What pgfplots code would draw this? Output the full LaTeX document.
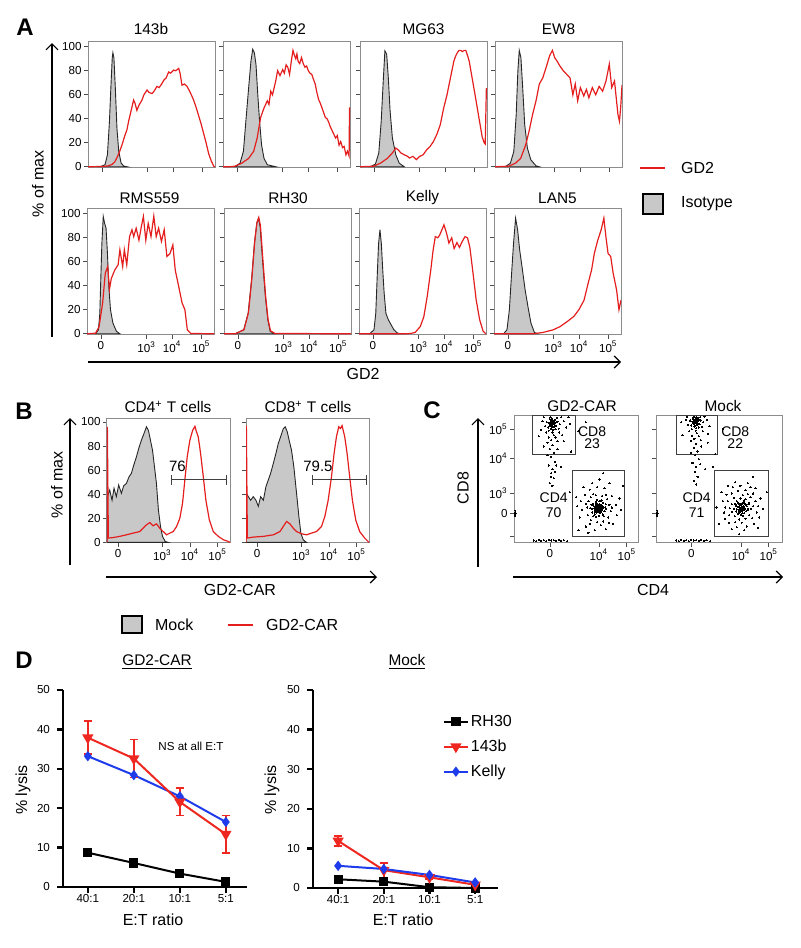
\documentclass[border=0pt]{standalone}
\usepackage{fontspec}
\setmainfont{Liberation Sans}
\usepackage{pgfplots}
\pgfplotsset{compat=1.18}
\usetikzlibrary{arrows.meta}
\definecolor{gdred}{RGB}{228,30,30}
\definecolor{lysred}{RGB}{238,40,32}
\definecolor{lysblue}{RGB}{30,60,235}
\definecolor{isogray}{RGB}{200,200,200}
\definecolor{framegray}{RGB}{140,140,140}
\newcommand{\fs}[1]{\fontsize{#1}{#1}\selectfont}

\pgfplotsset{
  flow/.style={scale only axis, clip=true,
    axis line style={framegray, line width=0.5pt},
    tick style={black!70, line width=0.4pt}, tick align=outside, tick pos=left,
    major tick length=2pt,
    tick label style={font=\fs{5.8}, inner sep=1pt},
    /pgf/number format/assume math mode=true, xmin=0, xmax=100},
  hist/.style={flow, width=63.5pt, height=63pt, ymin=-1, ymax=104,
    xtick={11,47,67,90},
    xticklabels={0,10\textsuperscript{3},10\textsuperscript{4},10\textsuperscript{5}},
    ytick={0,20,40,60,80,100}},
  nox/.style={xticklabels={}},
  noy/.style={yticklabels={}},
  iso/.style={fill=isogray, draw=black!85, line width=0.45pt},
  gd/.style={draw=gdred, line width=0.6pt},
  cdot/.style={only marks, mark=*, mark size=0.3pt, black, mark options={line width=0pt}},
  dax/.style={scale only axis, axis x line=bottom, axis y line=left,
    axis line style={line width=1.2pt, -},
    ymin=0, ymax=50, xtick={0,1,2,3}, xticklabels={40:1,20:1,10:1,5:1},
    ytick={0,10,20,30,40,50}, tick align=outside, major tick length=3pt,
    tick style={line width=1.2pt, black},
    tick label style={font=\fs{5.8}},
    xticklabel style={inner sep=0.6pt},
    /pgf/number format/assume math mode=true, clip=false},
  rh/.style={black, line width=1pt, mark=square*, mark size=1.8pt},
  tb/.style={lysred, line width=1pt, mark=triangle*, mark size=2.3pt, mark options={rotate=180}},
  ke/.style={lysblue, line width=1pt, mark=diamond*, mark size=1.8pt},
  eb/.style={error bars/.cd, y dir=both, y explicit,
    error bar style={line width=0.8pt, lysred},
    error mark options={rotate=90, mark size=2pt, line width=0.8pt, lysred}},
}

\begin{document}
\begin{tikzpicture}

% ---------- overlay in pixel units: texts, arrows, legend keys ----------
\begin{axis}[at={(0pt,0pt)}, anchor=south west, scale only axis, width=400pt, height=474pt,
  xmin=0, xmax=800, ymin=0, ymax=948, y dir=reverse, hide axis, clip=false]
\addplot[draw=none] coordinates {(0,0)(800,948)};
% panel A
\node[font=\fs{12}\bfseries] at (25,27) {A};
\node[font=\fs{7.7}] at (151,29) {143b};
\node[font=\fs{7.7}] at (287,29) {G292};
\node[font=\fs{7.7}] at (423.5,29) {MG63};
\node[font=\fs{7.7}] at (558.5,29) {EW8};
\node[font=\fs{7.7}] at (149.5,198) {RMS559};
\node[font=\fs{7.7}] at (288,198) {RH30};
\node[font=\fs{7.7}] at (422.5,198) {Kelly};
\node[font=\fs{7.7}] at (557.5,198) {LAN5};
\node[font=\fs{8}, rotate=90] at (38,184) {\% of max};
\draw[line width=0.6pt, -{Straight Barb[length=3pt,width=6pt]}] (52,337) -- (52,43);
\draw[line width=0.6pt, -{Straight Barb[length=3pt,width=6pt]}] (88,362) -- (621,362);
\node[font=\fs{8}] at (363,374) {GD2};
\draw[gdred, line width=1.3pt] (640,168) -- (665,168);
\node[font=\fs{8}, anchor=west] at (674,168) {GD2};
\draw[fill=isogray, line width=1.3pt] (643,194) rectangle (663,214);
\node[font=\fs{8}, anchor=west] at (674,204) {Isotype};
% panel B
\node[font=\fs{12}\bfseries] at (24,411) {B};
\node[font=\fs{7.7}] at (168,407) {CD4\textsuperscript{+} T cells};
\node[font=\fs{7.7}] at (308,407) {CD8\textsuperscript{+} T cells};
\node[font=\fs{8}, rotate=90] at (57,485) {\% of max};
\draw[line width=0.6pt, -{Straight Barb[length=3pt,width=6pt]}] (70,565) -- (70,418);
\draw[line width=0.6pt, -{Straight Barb[length=3pt,width=6pt]}] (106,577) -- (377,577);
\node[font=\fs{8}] at (240,590) {GD2-CAR};
\draw[fill=isogray, line width=1.3pt] (122,616) rectangle (142,633);
\node[font=\fs{8}, anchor=west] at (148,625) {Mock};
\draw[gdred, line width=1.3pt] (228,625) -- (253,625);
\node[font=\fs{8}, anchor=west] at (259,625) {GD2-CAR};
% panel C
\node[font=\fs{12}\bfseries] at (432,410) {C};
\node[font=\fs{7.7}] at (582,406) {GD2-CAR};
\node[font=\fs{7.7}] at (723,406) {Mock};
\draw[line width=0.6pt, -{Straight Barb[length=3pt,width=6pt]}] (478,567) -- (478,418);
\node[font=\fs{8}, rotate=90] at (463,488) {CD8};
\draw[line width=0.6pt, -{Straight Barb[length=3pt,width=6pt]}] (513,577) -- (783,577);
\node[font=\fs{8}] at (653,590) {CD4};
% panel D
\node[font=\fs{12}\bfseries] at (24,660) {D};
\node[font=\fs{7.7}] at (157,662) {\underline{GD2-CAR}};
\node[font=\fs{7.7}] at (407,662) {\underline{Mock}};
\node[font=\fs{8}, rotate=90] at (23,790) {\% lysis};
\node[font=\fs{8}, rotate=90] at (272,790) {\% lysis};
\node[font=\fs{8}] at (153,920) {E:T ratio};
\node[font=\fs{8}] at (403,920) {E:T ratio};
\node[font=\fs{5.8}] at (191,746) {NS at all E:T};
\end{axis}

% ---------- panel A, row 1 ----------
\begin{axis}[hist, nox, at={(44pt,453pt)}, anchor=north west]
\addplot[iso] coordinates {(9.4,0)(13.4,1.7)(15.3,10)(16.9,38)(18.0,66)(19.1,91)(19.6,95)(20.4,91)(21.5,66)(22.8,32)(24.2,13)(26.1,3)(28.2,0.6)(30.9,0)} \closedcycle;
\addplot[gd] coordinates {(0,0)(12,0.3)(16,0.8)(19,2)(21,4)(23,8)(25,13)(27,19)(29,26)(30.6,30.6)(32,38)(34,47)(35.9,55.6)(37,53)(38.5,47)(40,51)(42.5,55.6)(44,60)(46.5,64)(48,62)(50.4,61)(52,63)(54.3,67)(56,66)(58,69)(59.6,72)(61.5,74)(63.5,79)(65,78)(67.5,80.6)(69,80)(71.4,82)(72.5,78)(74,68)(76,69)(78,67)(80.5,62)(83,56)(85,50)(87,43)(89,36)(91,28)(93,20)(95,11)(97,5)(99,0.5)(100,0)};
\end{axis}
\begin{axis}[hist, nox, noy, at={(111.5pt,453pt)}, anchor=north west]
\addplot[iso] coordinates {(9.4,0)(13.4,3)(16.1,13)(18,38)(20.2,66)(22,88)(23.4,98)(24.7,95)(26,85)(27.4,60)(28.8,38)(30.4,18)(32.3,7)(34.9,1.7)(41.7,0)} \closedcycle;
\addplot[gd] coordinates {(0,0)(5,0)(9.4,0.5)(14.8,3)(20.2,7)(24.2,13)(26.9,24)(29.6,41)(32.3,49)(34.9,55)(36.2,52)(37.6,63)(39,60)(40.3,66)(41.6,72)(43,80)(44.9,76)(47,81)(48.3,78)(49.7,85)(51,83)(52.4,77)(53.8,88)(55.1,97)(56.2,93)(57.3,90)(58.2,94)(59.1,88)(60.4,86)(61.8,91)(63.2,86)(64.5,83)(65.8,84)(67.2,80)(68.5,78)(69.9,77)(71.2,73)(72.6,69)(73.9,62)(75.3,56)(76.6,53)(78,49)(79.3,45)(80.6,41)(82,40)(83.3,37)(84.6,33)(86,30)(87.3,27)(88.7,24)(90,26)(91.4,18)(92.7,21)(94.1,16)(95.4,17)(96.8,10)(98,13)(99.3,9)(99.6,49)(100,49)};
\end{axis}
\begin{axis}[hist, nox, noy, at={(180pt,453pt)}, anchor=north west]
\addplot[iso] coordinates {(8.1,0)(12.1,2.2)(14.8,11.5)(16.7,38)(18.3,71.5)(19.6,96.6)(21,93.9)(22.3,74.3)(23.7,46.4)(25.5,24)(28.2,10)(30.9,3)(34.9,0)} \closedcycle;
\addplot[gd] coordinates {(0,0)(10.8,0.5)(16.1,3)(21.5,7)(25.5,11.5)(28.2,15.6)(30.1,14)(32.3,11.5)(34.9,10)(37,9)(39,7.3)(41.7,8.7)(44.4,6)(47,8.7)(49.7,10)(52.4,14)(55.1,16.8)(57.8,21)(60.5,27)(63.2,35)(65.9,49)(68.5,60)(71.2,74)(73.9,88)(75.2,92)(76.6,95)(78,97)(79.3,97)(80.6,96)(82,97)(83.3,97)(84.6,93)(86,88)(88.7,71.5)(91.4,55)(94.1,38)(96.2,25)(97.8,20)(98.6,19)(99.5,65)(100,65)};
\end{axis}
\begin{axis}[hist, nox, noy, at={(247.5pt,453pt)}, anchor=north west]
\addplot[iso] coordinates {(8.1,0)(12.1,3)(14.8,12.8)(16.7,43.6)(18,80)(19.1,97)(20.4,91)(21.8,66)(23.4,35)(25.5,15.6)(28.2,5.9)(32.3,0.8)(34.9,0)} \closedcycle;
\addplot[gd] coordinates {(0,0)(10.8,0.5)(16.1,3)(20.2,7)(24.2,18.4)(26.9,30)(29.6,43.6)(32.3,55)(34.9,69)(37.6,74)(40.3,83)(43,92.5)(45.2,97)(47,91)(48.9,88)(51.1,84)(53.8,80)(56.5,77)(59.1,74)(61.3,60)(63.2,69)(65.1,55)(67.2,66)(69.9,59)(72,64.5)(73.9,57.5)(76.6,66)(79.3,60)(82,67)(84.7,63)(87.4,71.5)(90,85.5)(91.9,66)(94.1,71.5)(96.8,43.6)(98,38)(99,50)(100,68)};
\end{axis}

% ---------- panel A, row 2 ----------
\begin{axis}[hist, at={(43.5pt,369.5pt)}, anchor=north west]
\addplot[iso] coordinates {(6.8,0)(9,3.3)(10.1,17)(10.9,47)(11.7,75)(12.8,97.8)(13.9,92)(15,88)(16.1,67)(17.2,39)(18.5,20)(20.4,9)(23.2,2)(25.9,0)} \closedcycle;
\addplot[gd] coordinates {(0,0)(6.8,0.5)(9.5,6)(12.3,25.6)(14.4,50.6)(16.3,56)(17.7,37)(19.1,46)(21.8,53)(24.5,57.5)(25.9,70)(28.1,56)(29.4,70)(31.3,57.5)(33.5,81)(35.4,86.7)(36.8,81)(38.7,88)(40.9,78)(42.8,89.4)(44.4,97.8)(46.3,78)(48.2,92)(50.4,81)(52.6,98)(54.5,81)(56.4,88)(58.6,77)(60.8,86.7)(62.9,64.4)(65.4,67)(67.6,74)(69.5,53)(72.2,39.4)(74.9,25.6)(77.1,20)(79,3.3)(81.7,0.3)(100,0)};
\end{axis}
\begin{axis}[hist, noy, at={(112pt,369.5pt)}, anchor=north west]
\addplot[iso] coordinates {(8.7,0)(15.5,3.3)(19,17)(21.7,45)(23.9,75)(25.8,92)(27.2,96)(28.5,89)(30.4,61)(32.6,31)(34.5,11.7)(36.4,2)(40,0)} \closedcycle;
\addplot[gd] coordinates {(0,0)(9,0)(15.8,3.5)(19.3,18)(22,47)(24.2,77)(26,93)(27.4,97)(28.7,90)(30.6,62)(32.8,31)(34.7,12)(36.6,2.5)(40,0.3)(100,0)};
\end{axis}
\begin{axis}[hist, noy, at={(179.5pt,369.5pt)}, anchor=north west]
\addplot[iso] coordinates {(8.3,0)(11.8,3.3)(13.2,17)(14.3,47)(15.4,75)(16.5,86.7)(17.6,75)(18.7,53)(19.8,34)(21.2,17)(23.1,11.7)(25.3,7.5)(27.5,3.3)(30.3,0.6)(33,0)} \closedcycle;
\addplot[gd] coordinates {(0,0)(38.6,0)(44.1,1)(48.2,6)(51,14)(53.7,31)(56.5,53)(58.4,70)(60.1,81)(62,80)(63.4,82)(65.3,86.7)(66.9,90.8)(68.9,84)(70.8,75.6)(73,80)(74.9,71)(77.1,76)(79.1,72)(81.3,77)(83.5,81)(85.4,80)(87.3,72)(89.5,53)(92.3,28)(95,11.7)(97.8,2)(100,0)};
\end{axis}
\begin{axis}[hist, noy, at={(247pt,369.5pt)}, anchor=north west]
\addplot[iso] coordinates {(7.5,0)(10.2,3.3)(12.1,20)(13.7,47.8)(15.4,75.6)(17,96.4)(18.6,86.7)(20.2,70)(22.4,53.3)(24.5,36.7)(26.7,22.8)(29.1,8.9)(31.8,1.1)(34.5,0)} \closedcycle;
\addplot[gd] coordinates {(0,0)(30.5,0)(38.5,1.1)(46.6,3.3)(52,6)(57.4,10)(62.8,14.4)(66.8,20)(70.9,28)(74.1,42)(76.8,53)(79,67)(81.7,78)(84.4,86.7)(86.5,96.4)(88.1,81)(89.8,67)(91.9,64.4)(93.8,50.6)(96.5,36.7)(98.4,20)(100,28)};
\end{axis}

% ---------- panel B ----------
\begin{axis}[flow, width=61.5pt, height=62pt, ymin=-0.5, ymax=102.5,
  xtick={9,45,67.5,90}, xticklabels={0,10\textsuperscript{3},10\textsuperscript{4},10\textsuperscript{5}},
  ytick={0,20,40,60,80,100}, at={(53.5pt,264.5pt)}, anchor=north west]
\addplot[iso] coordinates {(0,0)(0.3,38)(2.2,43.5)(4.1,35)(5.7,45)(7.6,38)(9.5,47.7)(11.7,40.8)(13.6,47)(15.8,49)(17.9,54.5)(19.8,57.3)(21.7,64)(23.9,71)(25.8,78)(28,85)(29.9,90)(32.1,96)(33.7,93)(35.3,85)(37,76.6)(38.6,62.8)(40.2,49)(41.8,27)(43.5,13.2)(45.1,5)(47.3,0.8)(49.7,0)} \closedcycle;
\addplot[gd] coordinates {(0,0)(0.3,96)(1.1,3.6)(4.9,4)(10.3,5)(15.8,6.3)(21.2,7.7)(26.6,9)(29.3,11.8)(32.1,14.6)(34.8,16.5)(37.5,13.8)(40.2,15.4)(42.9,11.8)(45.7,9)(48.4,6.3)(51.1,7.7)(53.8,9)(56.5,13)(59.2,20)(61.4,32.5)(63.3,51.8)(65.2,71)(67.4,85)(69.6,93)(71.5,96.4)(72.8,91.7)(74.2,87.6)(76.1,73.8)(78.3,54.5)(80.4,35)(83.2,18.7)(86.4,9)(90.5,5)(94.6,2.2)(98.6,0.8)(100,0)};
\draw[black!75, line width=0.6pt, {Bar[width=5pt]}-{Bar[width=5pt]}] (52,52) -- (97.6,52);
\node[font=\fs{7.5}] at (57.3,63) {76};
\end{axis}
\begin{axis}[flow, width=61.5pt, height=62pt, ymin=-0.5, ymax=102.5,
  xtick={9,45,67.5,90}, xticklabels={0,10\textsuperscript{3},10\textsuperscript{4},10\textsuperscript{5}},
  ytick={0,20,40,60,80,100}, noy, at={(123pt,264.5pt)}, anchor=north west]
\addplot[iso] coordinates {(0,0)(0.3,40.8)(1.9,38)(3.8,35)(5.9,38)(8.1,35)(10,30)(11.9,38)(14.1,35)(16.2,46.3)(18.1,51.8)(20,57.3)(22.2,65.6)(24.3,73.8)(26.2,82)(28.1,87.6)(30.3,94.5)(31.9,96)(33.5,92)(35.1,84.8)(37,76.6)(38.9,62.8)(41.1,40.8)(43,21.5)(44.6,7.7)(46.5,2.2)(49.2,0)} \closedcycle;
\addplot[gd] coordinates {(0,0)(0.3,97)(1.1,3.6)(5.9,4.4)(14.1,5)(22.2,6.3)(27.6,9)(30.3,13.2)(33,17.4)(35.7,15.4)(38.4,11.8)(41.1,9)(45.1,7.2)(49.2,6.3)(53.2,7.7)(57.3,9)(61.4,13.2)(64.1,21.5)(66.8,35)(69.5,54.5)(71.6,73.8)(73.5,87.6)(75.4,96)(76.8,94.6)(78.1,97)(80.3,87.6)(82.2,73.8)(84.3,54.5)(86.5,35)(89.2,18.7)(92.4,9)(96.5,3.6)(100,0)};
\draw[black!75, line width=0.6pt, {Bar[width=5pt]}-{Bar[width=5pt]}] (53.7,52) -- (98.4,52);
\node[font=\fs{7.5}] at (58.5,63) {79.5};
\end{axis}

% ---------- panel C ----------
\begin{axis}[flow, width=62pt, height=63.5pt, ymin=0, ymax=100,
  xtick={29,68.5,91}, xticklabels={0,10\textsuperscript{4},10\textsuperscript{5}},
  ytick={5.5,23.6,39.4,67,89.8}, yticklabels={,0,10\textsuperscript{3},10\textsuperscript{4},10\textsuperscript{5}},
  at={(257pt,266pt)}, anchor=north west]
% CD4+ events
\addplot[cdot] coordinates {(68,27)(67,28)(69,26)(66.5,26.5)(69.5,28)(68,29)(67,25.5)(70,27.5)(65.5,28)(68.5,24.5)(66,29.5)(70.5,25.5)(67.5,30)(69,30.5)(71,29)(65,26)(66.5,24)(70,24)(64.5,29)(71.5,27)
(67.5,26.5)(68.5,27.8)(66.2,27.2)(69.8,26.8)(68.2,25.2)(67.2,29.2)(70.8,28.2)(65.8,25.2)
(67.8,26.8)(68.6,27.4)(67.4,27.9)(68.9,26.3)(66.9,27.6)(69.3,28.6)(67.9,28.3)(68.3,26.1)(66.4,28.4)(69.9,27.1)(67.1,26.1)(68.7,29.3)(70.2,26.3)(66.1,27.1)(68.1,24.9)(69.1,25.1)(67.6,24.3)(65.9,29.1)(70.6,29.6)(71.2,26.1)(64.9,27.4)(69.6,23.6)(66.6,31.1)(71.9,28.3)(65.4,24.6)
(63,27)(64,31)(66,32.5)(69,33)(72,31.5)(73.5,28)(73,25)(71.5,22.5)(68.5,21.5)(65,22.5)(63,24)(62.5,30)(74,30.5)(67,34)(70.5,33.5)(64,21)(61.5,27.5)(72.5,21)(74.5,26.5)(66,20.5)
(59,28)(60,33)(62,36)(66,37.5)(71,37)(75,34.5)(77,30)(78,25)(76,20)(72,17)(67,16.5)(62,18)(59.5,22)(58,31)(64,38.5)(74,38)(79,28)(61,15)(70,14)(76.5,16)
(55,26)(54,33)(57,38)(61,42)(67,44)(73,43)(79,37)(82,30)(83,22)(80,15)(74,11)(65,10)(58,13)(53,20)(51,29)(69,50)(63,47)(85,35)(56,44)(77,47)(86,26)(60,8)(50,36)(45,40)(88,45)(72,55)(52,10)};
% CD8+ events
\addplot[cdot] coordinates {(31,93)(30,95)(32,91.5)(29.5,92)(32.5,94.5)(31,96.5)(30,90)(33,97)(28.5,94.5)(34,92)(31.5,89)(29,97.5)(33.5,89.5)(30.5,93.5)(32,95.5)(27.5,91)(35,95.5)(31,87)(29.5,99)(34.5,98.5)(28,88.5)(26.5,95)(36,90)(32,85)
(31.3,94.1)(30.6,92.6)(32.2,93.4)(31.6,95.3)(30.2,94.2)(32.9,92.8)(31.1,91.2)(29.8,96.2)(32.7,96.3)(30.9,97.8)(33.4,94.6)(29.1,93.3)
(25,92)(37,93.5)(26,87)(36.5,87)(33.5,83)(28,83)(40,96)(23,96)(38,99)(30,81)(42,91)(24,99)(35,80)(45,94)(27,79)(39,85)(22,89)(44,99)
(31,77)(29,74)(32.5,71)(30,68)(33,64)(28,61)(31,58)(30,55)(32,51)(29,47)(34,61)(27,69)(35,74)(31,45)(30,52)(33,56)
(40,80)(46,72)(20,84)(38,60)(52,88)(58,95)(24,76)};
% events on the axis edges
\addplot[cdot] coordinates {(0.8,23)(1,24)(0.8,22)(1.2,23.5)(0.8,21)(1,25.5)(16,2)(18,1.5)(20,2.5)(22,1.8)(24,2.2)(26,1.4)(28,2.6)(30,1.9)(32,2.1)(34,1.6)(36,2.4)(38,1.8)(40,2.2)(43,1.5)};
\draw[black!75, line width=0.5pt] (15.3,70) rectangle (49.2,100);
\draw[black!75, line width=0.5pt] (46.8,5.5) rectangle (89.5,56.7);
\node[font=\fs{7}] at (63,88) {CD8};
\node[font=\fs{7}] at (63,78) {23};
\node[font=\fs{7}] at (32,35.4) {CD4};
\node[font=\fs{7}] at (32,23.6) {70};
\end{axis}
\begin{axis}[flow, width=63pt, height=63.5pt, ymin=0, ymax=100,
  xtick={28,67.5,89.5}, xticklabels={0,10\textsuperscript{4},10\textsuperscript{5}},
  ytick={5.5,23.6,39.4,67,89.8}, yticklabels={},
  at={(328pt,266pt)}, anchor=north west]
\addplot[cdot] coordinates {(67,27)(68,29)(66,25)(69.5,26)(65.5,28.5)(70,28.5)(67.5,31)(68.5,23.5)(64,26.5)(71.5,25)(66,30.5)(70,31.5)(63.5,29.5)(72,29)(65,23)(69,21.5)(62,27)(73,27)
(67.8,27.8)(66.8,26.2)(69.2,27.4)(68.2,25.6)
(67.3,27.6)(68.6,26.4)(66.4,27.8)(69.1,28.9)(67.9,25.1)(65.6,26.1)(70.6,27.1)(66.9,29.9)(68.9,31.1)(64.8,28.3)(71.1,30.3)(66.2,23.9)(70.1,23.6)(63.6,24.8)(72.6,25.8)(65.1,31.6)(69.6,33.2)(67.4,22.1)(62.9,30.9)(73.4,30.4)
(64,33)(67,35)(71,34.5)(74,31.5)(75.5,27)(74,22)(71,19)(66,18.5)(62.5,21)(60.5,24.5)(60,30.5)(62,35.5)(69,37.5)(75,36)(77,29)(76.5,19.5)(68,16)(63,16.5)(58.5,27.5)(73,38.5)
(57,33)(58,22)(60,39)(65,41)(71,41.5)(77,39)(79,33)(80,24)(78,15)(72,13)(64,12.5)(58,16)(55,28)(56,38)(67,45)(75,44)(81,29)(61,44)(79,43)(70,10)(55,19)(82,20)(60,11)
(53,33)(54,24)(63,48)(73,47)(83,35)(81,12)(66,7)(52,40)(85,27)(57,45)(50,15)(77,52)(88,40)(48,28)};
\addplot[cdot] coordinates {(31.5,94.5)(30.5,96.5)(32.5,93)(30,93.5)(33,96)(31.5,98)(30.5,91.5)(33.5,98.5)(29,95.5)(34.5,93.5)(32,90.5)(29.5,98.5)(34,91)(31,95)(32.5,97)(28,92.5)(35.5,96.5)(31.5,88.5)(30,99.3)(35,99)(28.5,89.5)(27,96.5)(36.5,91.5)(32.5,86.5)
(31.8,95.3)(30.8,94.1)(32.4,95.8)(31.2,96.9)(30.3,95.6)(33.1,94.4)(31.4,92.4)(29.6,97.1)(32.8,98.2)(31.9,99.1)(33.7,96.9)(29.3,94.6)
(25.5,93)(37.5,95)(26.5,88)(37,88)(34,84)(28.5,84.5)(40.5,97)(23.5,97)(38.5,99.5)(30.5,82)(42.5,92)(24.5,99.5)(35.5,81)(41,86)(27.5,80.5)
(32,78)(30,75)(33,72)(31,69)(34,66)(29,63)(32,60)(31,56)(33,52)(30,49)(35,62)(28,71)(36,76)(32,46)
(41,79)(47,70)(21,85)(39,58)(53,90)(20,95)(45,60)};
\addplot[cdot] coordinates {(0.8,23)(1,24)(0.8,22)(1.2,23.5)(0.8,21)(1,25.5)(16,2)(18,1.5)(20,2.5)(22,1.8)(24,2.2)(26,1.4)(28,2.6)(30,1.9)(32,2.1)(34,1.6)(36,2.4)(38,1.8)(40,2.2)(43,1.5)};
\draw[black!75, line width=0.5pt] (16.1,70) rectangle (49.2,100);
\draw[black!75, line width=0.5pt] (46.8,5.5) rectangle (89.5,56.7);
\node[font=\fs{7}] at (62.9,88) {CD8};
\node[font=\fs{7}] at (62.9,78) {22};
\node[font=\fs{7}] at (32.3,35.4) {CD4};
\node[font=\fs{7}] at (32.3,23.6) {71};
\end{axis}

% ---------- panel D ----------
\begin{axis}[dax, width=92pt, height=98.5pt, xmin=-0.54, xmax=3.46, at={(31.5pt,129pt)}, anchor=north west]
\addplot[rh] coordinates {(0,8.7)(1,6.1)(2,3.4)(3,1.3)};
\addplot[ke] coordinates {(0,33.2)(1,28.4)(2,23.0)(3,16.5)};
\addplot[tb, eb] coordinates {(0,37.9) +- (0,4.2) (1,32.6) +- (0,4.8) (2,21.6) +- (0,3.5) (3,13.4) +- (0,4.7)};
\end{axis}
\begin{axis}[dax, width=92.5pt, height=99pt, xmin=-0.55, xmax=3.5, at={(156.5pt,129pt)}, anchor=north west,
  legend style={at={(0.70,0.89)}, anchor=north west, draw=none, fill=none, font=\fs{8},
    inner sep=0pt, row sep=3pt, nodes={inner sep=1pt, text height=6pt, text depth=1.5pt}},
  legend cell align=left,
  legend image code/.code={\draw[mark repeat=2, mark phase=2, #1] plot coordinates {(0pt,0pt) (6pt,0pt) (12pt,0pt)};}]
\addplot[rh] coordinates {(0,2.2)(1,1.6)(2,0.2)(3,0)};
\addlegendentry{RH30}
\addplot[tb, eb] coordinates {(0,11.9) +- (0,1.3) (1,4.5) +- (0,1.8) (2,2.7) +- (0,0.4) (3,0.8) +- (0,0.3)};
\addlegendentry{143b}
\addplot[ke] coordinates {(0,5.6)(1,4.8)(2,3.3)(3,1.4)};
\addlegendentry{Kelly}
\end{axis}

\pgfresetboundingbox
\path (0pt,0pt) rectangle (400pt,474pt);
\end{tikzpicture}
\end{document}
